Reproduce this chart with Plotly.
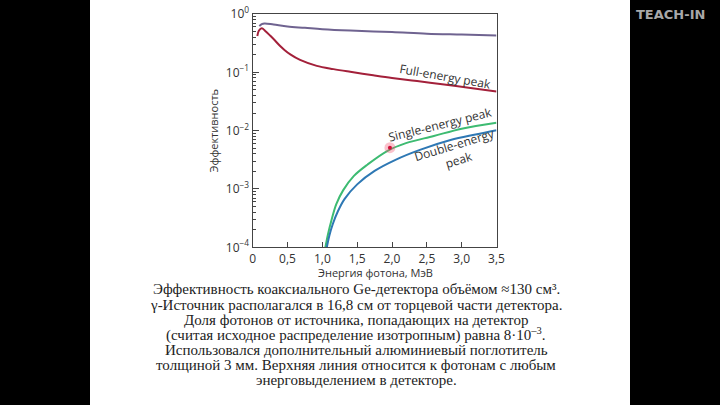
import plotly.graph_objects as go

# ---- data ----
energy_total = [0.095, 0.13, 0.17, 0.3, 0.5, 0.75, 1.0, 1.4, 2.0, 2.5, 3.0, 3.5]
eff_total = [0.62, 0.67, 0.69, 0.66, 0.61, 0.58, 0.55, 0.52, 0.49, 0.46, 0.445, 0.43]

energy_full = [0.066, 0.09, 0.13, 0.18, 0.25, 0.32, 0.39, 0.46, 0.54, 0.68, 0.92, 1.16, 1.40, 1.73, 2.0, 2.36, 2.75, 3.1, 3.5]
eff_full = [0.42, 0.52, 0.57, 0.513, 0.427, 0.351, 0.285, 0.24, 0.203, 0.163, 0.129, 0.1135, 0.102, 0.089, 0.080, 0.0708, 0.0617, 0.0543, 0.047]

energy_single = [1.044, 1.08, 1.13, 1.2, 1.3, 1.45, 1.65, 1.93, 2.2, 2.6, 3.0, 3.5]
eff_single = [1e-4, 1.66e-4, 2.88e-4, 5.5e-4, 9.55e-4, 1.66e-3, 2.63e-3, 4.47e-3, 6.1e-3, 8.1e-3, 1.08e-2, 1.37e-2]

energy_double = [1.064, 1.10, 1.15, 1.22, 1.32, 1.50, 1.75, 2.05, 2.4, 2.84, 3.2, 3.5]
eff_double = [1e-4, 1.58e-4, 2.51e-4, 4.07e-4, 6.76e-4, 1.2e-3, 2.04e-3, 3.16e-3, 4.68e-3, 6.9e-3, 8.6e-3, 1.02e-2]

pointer_x = [1.97]
pointer_y = [5.1e-3]

x_tickvals = [0, 0.5, 1.0, 1.5, 2.0, 2.5, 3.0, 3.5]
x_ticktext = ["0", "0,5", "1,0", "1,5", "2,0", "2,5", "3,0", "3,5"]
y_tickvals = [1e-4, 1e-3, 1e-2, 1e-1, 1]
y_ticktext = ["10<sup>−4</sup>", "10<sup>−3</sup>", "10<sup>−2</sup>", "10<sup>−1</sup>", "10<sup>0</sup>"]

caption_lines = [
    "Эффективность коаксиального Ge-детектора объёмом ≈130 см³.",
    "γ-Источник располагался в 16,8 см от торцевой части детектора.",
    "Доля фотонов от источника, попадающих на детектор",
    "(считая исходное распределение изотропным) равна 8·10<sup>–3</sup>.",
    "Использовался дополнительный алюминиевый поглотитель",
    "толщиной 3 мм. Верхняя линия относится к фотонам с любым",
    "энерговыделением в детекторе.",
]

W, H = 720, 405
fig = go.Figure()

line_kw = dict(mode="lines", line_shape="spline", hoverinfo="skip", showlegend=False)
fig.add_trace(go.Scatter(x=energy_total, y=eff_total, line=dict(color="#6f6390", width=2), **line_kw))
fig.add_trace(go.Scatter(x=energy_full, y=eff_full, line=dict(color="#a3203a", width=2), **line_kw))
fig.add_trace(go.Scatter(x=energy_single, y=eff_single, line=dict(color="#3dbb72", width=2), **line_kw))
fig.add_trace(go.Scatter(x=energy_double, y=eff_double, line=dict(color="#2e78b4", width=2), **line_kw))
fig.add_trace(go.Scatter(x=pointer_x, y=pointer_y, mode="markers", showlegend=False, hoverinfo="skip",
                         marker=dict(size=11, color="rgba(240,80,110,0.35)", line=dict(width=0))))
fig.add_trace(go.Scatter(x=pointer_x, y=pointer_y, mode="markers", showlegend=False, hoverinfo="skip",
                         marker=dict(size=4, color="#d0103a", line=dict(width=0))))

tick_font = dict(family="Open Sans, Liberation Sans, sans-serif", size=12, color="#333")

fig.update_xaxes(
    range=[0, 3.5], domain=[252.7 / W, 496.5 / W], automargin=False,
    tickvals=x_tickvals, ticktext=x_ticktext,
    ticks="inside", ticklen=5, tickcolor="#444", tickwidth=1,
    showline=True, linecolor="#444", linewidth=1.3, mirror=True,
    showgrid=False, zeroline=False, tickfont=tick_font,
)
fig.update_yaxes(
    type="log", range=[-4, 0], domain=[1 - 247.3 / H, 1 - 14 / H], automargin=False,
    tickvals=y_tickvals, ticktext=y_ticktext,
    ticks="inside", ticklen=6, tickcolor="#444", tickwidth=1,
    minor=dict(ticks="inside", ticklen=3, tickcolor="#444", dtick="D1", showgrid=False),
    showline=True, linecolor="#444", linewidth=1.3, mirror=True,
    showgrid=False, zeroline=False, tickfont=tick_font,
    title=dict(text="Эффективность", font=dict(family="Open Sans, sans-serif", size=11, color="#333"), standoff=4),
)

ann_font = dict(family="Open Sans, Liberation Sans, sans-serif", size=12, color="#333")
annotations = [
    dict(x=2.77, y=-1.075, xref="x", yref="y", text="Full-energy peak", showarrow=False,
         textangle=10, font=ann_font),
    dict(x=2.69, y=-1.89, xref="x", yref="y", text="Single-energy peak", showarrow=False,
         textangle=-14, font=ann_font),
    dict(x=2.93, y=-2.37, xref="x", yref="y", text="Double-energy<br>peak", showarrow=False,
         textangle=-17, font=ann_font),
    dict(x=375 / W, y=1 - 272.5 / H, xref="paper", yref="paper", text="Энергия фотона, МэВ",
         showarrow=False, xanchor="center", yanchor="middle",
         font=dict(family="Open Sans, sans-serif", size=11, color="#333")),
    dict(x=670 / W, y=1 - 15 / H, xref="paper", yref="paper", text="<b>TEACH-IN</b>", showarrow=False,
         xanchor="center", yanchor="middle",
         font=dict(family="DejaVu Sans, sans-serif", size=13, color="#a8a8a8")),
]
caption_y = [288.5, 304.5, 319.5, 334.5, 350, 365, 380]
for txt, yy in zip(caption_lines, caption_y):
    annotations.append(dict(x=356 / W, y=1 - yy / H, xref="paper", yref="paper", text=txt,
                            showarrow=False, xanchor="center", yanchor="middle",
                            font=dict(family="Liberation Serif, Times New Roman, serif", size=15, color="#222")))

shapes = [
    dict(type="rect", xref="paper", yref="paper", x0=0, x1=90 / W, y0=0, y1=1, fillcolor="black", line=dict(width=0), layer="below"),
    dict(type="rect", xref="paper", yref="paper", x0=630 / W, x1=1, y0=0, y1=1, fillcolor="black", line=dict(width=0), layer="below"),
]

fig.update_layout(
    width=W, height=H, margin=dict(l=0, r=0, t=0, b=0, autoexpand=False),
    paper_bgcolor="white", plot_bgcolor="white",
    annotations=annotations, shapes=shapes,
)

fig.write_html("out.html", config={"displayModeBar": False},
               post_script="document.body.style.margin='0';document.body.style.overflow='hidden';")
